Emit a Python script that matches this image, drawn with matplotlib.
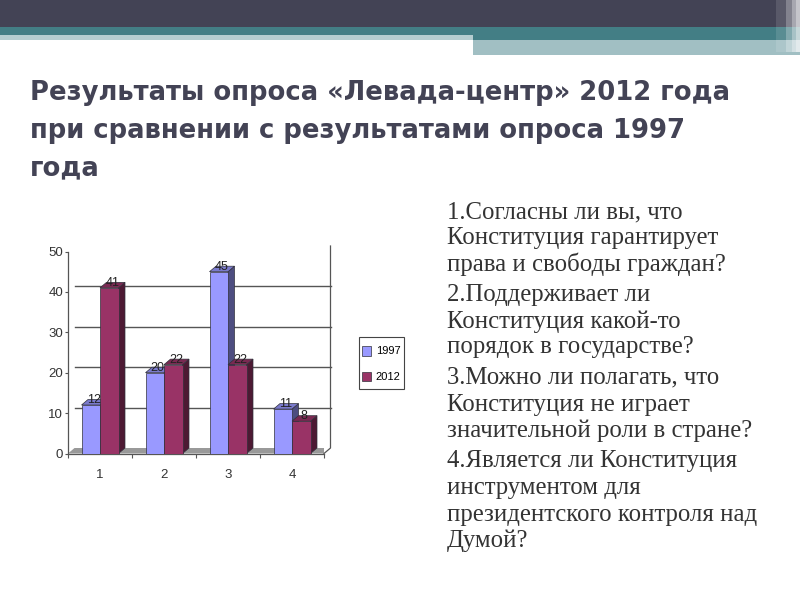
import matplotlib
matplotlib.use("Agg")
import matplotlib.pyplot as plt
from matplotlib.patches import Patch, Rectangle

# donnees du graphique
categories = [1, 2, 3, 4]
values_1997 = [12, 20, 45, 11]
values_2012 = [41, 22, 22, 8]
series_names = ["1997", "2012"]
y_ticks = [0, 10, 20, 30, 40, 50]

title_lines = [
    "Результаты опроса «Левада-центр» 2012 года",
    "при сравнении с результатами опроса 1997",
    "года",
]
title_y = [100, 138, 175]
question_lines = [
    "1.Согласны ли вы, что",
    "Конституция гарантирует",
    "права и свободы граждан?",
    "2.Поддерживает ли",
    "Конституция какой-то",
    "порядок в государстве?",
    "3.Можно ли полагать, что",
    "Конституция не играет",
    "значительной роли в стране?",
    "4.Является ли Конституция",
    "инструментом для",
    "президентского контроля над",
    "Думой?",
]
question_y = [218, 244, 271, 301, 328, 353, 383, 411, 437, 467, 494, 521, 547]

W, H = 800, 600
fig = plt.figure(figsize=(8, 6), dpi=100)
bg = fig.add_axes([0, 0, 1, 1])
bg.set_xlim(0, W)
bg.set_ylim(H, 0)
bg.axis("off")

# bandeau du haut
bg.add_patch(Rectangle((473, 35), 327, 20, color="#A1BFC3", lw=0))
bg.add_patch(Rectangle((0, 35), 473, 5, color="#B5CDD0", lw=0))
bg.add_patch(Rectangle((0, 26.5), 800, 8.5, color="#437E85", lw=0))
bg.add_patch(Rectangle((473, 35), 327, 5, color="#437E85", lw=0))
bg.add_patch(Rectangle((0, 0), 800, 26.5, color="#434355", lw=0))
for x0, wd, a in [(776, 24, 0.12), (786, 14, 0.25), (792, 8, 0.3), (796, 4, 0.35)]:
    bg.add_patch(Rectangle((x0, 0), wd, 52, color="white", alpha=a, lw=0))

# titre
for line, y in zip(title_lines, title_y):
    bg.text(30, y, line, fontsize=18.6, fontweight="bold", color="#434355",
            family="DejaVu Sans", va="baseline", ha="left")

# questions
for line, y in zip(question_lines, question_y):
    bg.text(447, y, line, fontsize=17.8, color="#333333",
            family="Liberation Serif", va="baseline", ha="left")

# cadre de la legende
bg.add_patch(Rectangle((359, 337), 45, 52, facecolor="white", edgecolor="#444444", lw=0.8))

# graphique
ax = fig.add_axes([68 / W, 1 - 453.5 / H, 256 / W, 202 / H])
ax.set_xlim(0.5, 4.5)
ax.set_ylim(0, 50)
ax.patch.set_alpha(0)

px_x = 4 / 256
px_y = 50 / 202
dx = 6.5 * px_x
dy = 5.5 * px_y
bar_w = 18.5 * px_x

# sol et grille
ax.fill([0.5, 0.5 + dx, 4.5 + dx, 4.5], [0, dy, dy, 0], color="#999999", lw=0, zorder=1)
for t in y_ticks[1:-1]:
    ax.plot([0.5 + dx, 4.5 + dx], [t + dy, t + dy], color="#555555", lw=1, zorder=1, clip_on=False)
ax.plot([4.5 + dx, 4.5 + dx, 4.5], [50 + dy, dy, 0], color="#555555", lw=0.9, zorder=1, clip_on=False)

styles = [
    ("#9999FF", "#7A7ACC", "#4D4D80"),
    ("#993366", "#7A2952", "#4D1933"),
]
edge = "#30303A"
for i, c in enumerate(categories):
    for j, vals in enumerate([values_1997, values_2012]):
        v = vals[i]
        front, top, side = styles[j]
        x0 = c - bar_w + j * bar_w
        x1 = x0 + bar_w
        z = 3 + i + j * 0.1
        ax.fill([x1, x1 + dx, x1 + dx, x1], [0, dy, v + dy, v],
                facecolor=side, edgecolor=edge, lw=0.5, zorder=z)
        ax.fill([x0, x1, x1 + dx, x0 + dx], [v, v, v + dy, v + dy],
                facecolor=top, edgecolor=edge, lw=0.5, zorder=z)
        ax.bar(x0, v, width=bar_w, align="edge", color=front, edgecolor=edge, lw=0.5, zorder=z)
        ax.annotate(str(v), (x0 + bar_w / 2, v), xytext=(3, 5), textcoords="offset pixels",
                    ha="center", va="center", fontsize=9, color="#222222",
                    family="Liberation Sans", zorder=20, annotation_clip=False)

for s in ["top", "right"]:
    ax.spines[s].set_visible(False)
for s in ["left", "bottom"]:
    ax.spines[s].set_color("#555555")
    ax.spines[s].set_linewidth(0.9)
    ax.spines[s].set_zorder(2)

ax.set_yticks(y_ticks)
ax.set_xticks([c - 0.5 for c in categories] + [categories[-1] + 0.5])
ax.set_xticklabels([])
ax.set_xticks(categories, minor=True)
ax.set_xticklabels([str(c) for c in categories], minor=True)
ax.tick_params(axis="x", which="minor", length=0, pad=11, labelsize=9.5, labelcolor="#333333")
ax.tick_params(axis="x", which="major", length=3, color="#555555", width=0.8)
ax.tick_params(axis="y", length=2, pad=1.5, labelsize=9.5, labelcolor="#333333", color="#555555", width=0.8)
for lab in ax.get_xticklabels(minor=True) + ax.get_yticklabels():
    lab.set_family("Liberation Sans")

handles = [Patch(facecolor=styles[k][0], edgecolor=edge, lw=0.5, label=series_names[k]) for k in range(2)]
leg = fig.legend(handles=handles, loc="center", bbox_to_anchor=(381.5 / W, 1 - 364 / H),
                 frameon=False, handlelength=0.8, handleheight=1.0, handletextpad=0.4,
                 labelspacing=1.35, borderpad=0, borderaxespad=0,
                 prop={"family": "Liberation Sans", "size": 8})

fig.savefig("out.png", dpi=100)
